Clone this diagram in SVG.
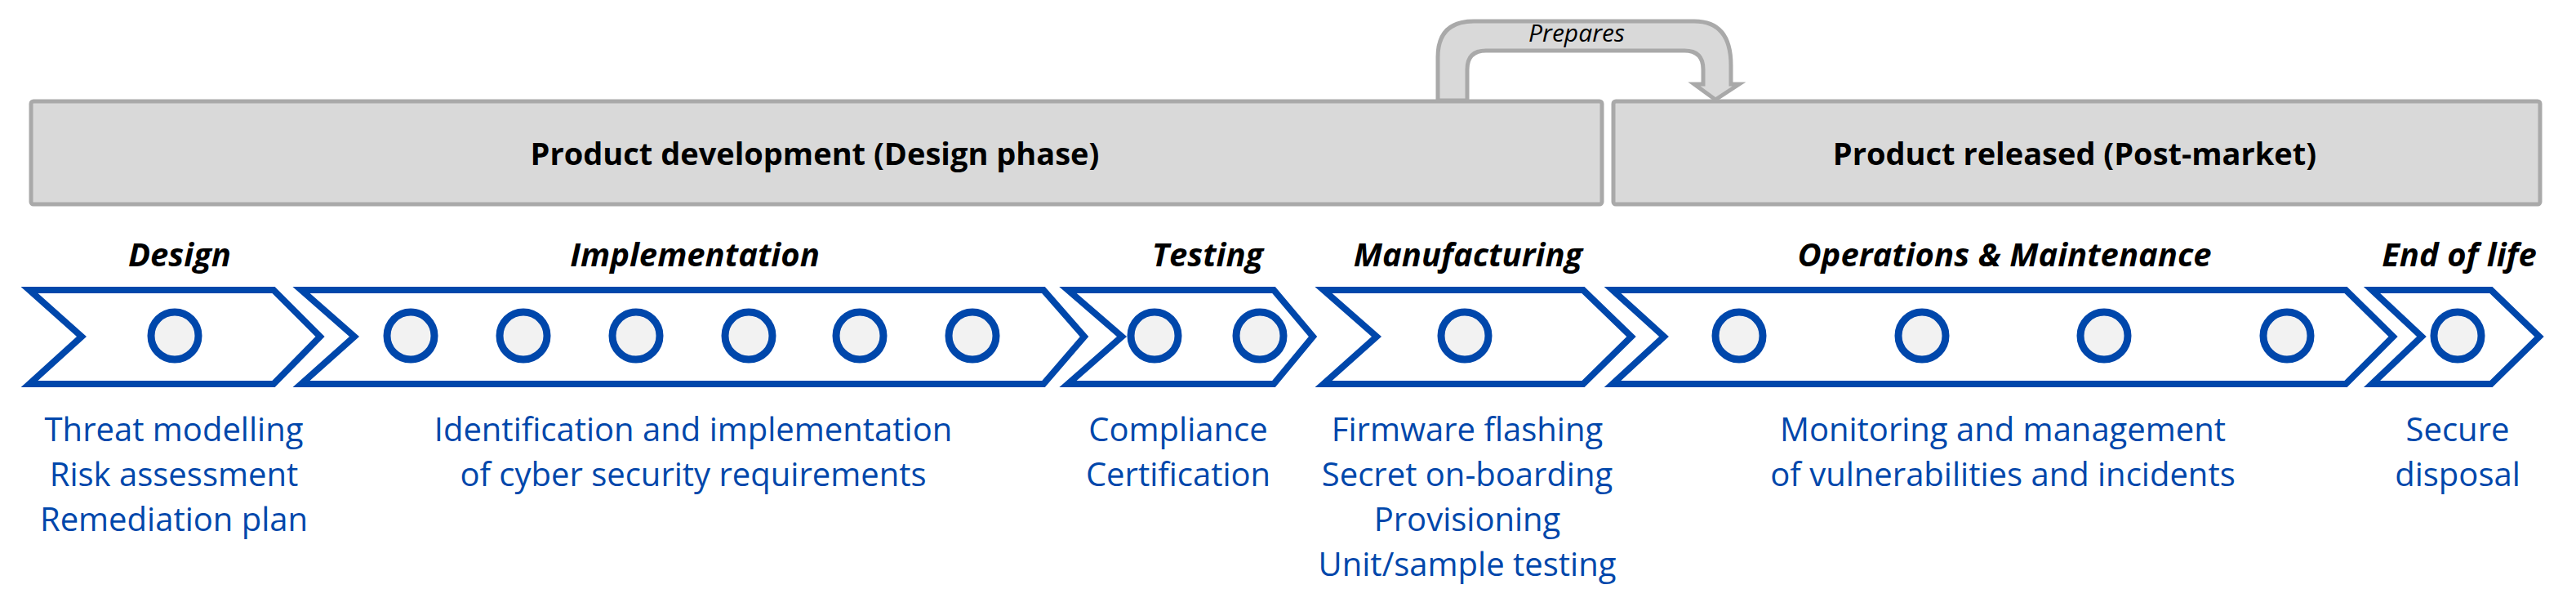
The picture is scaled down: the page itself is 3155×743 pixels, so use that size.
<svg xmlns="http://www.w3.org/2000/svg" width="3155" height="743" viewBox="0 0 3155 743">
<style>
.box{fill:#d9d9d9;stroke:#a9a9a9;stroke-width:5}
.chev{fill:#fff;stroke:#0047ab;stroke-width:8}
.dot{fill:#f2f2f2;stroke:#0047ab;stroke-width:9}
.hdr{font-family:"Open Sans",sans-serif;font-weight:bold;font-size:38px;text-anchor:middle;fill:#000}
.ph{font-family:"Open Sans",sans-serif;font-weight:bold;font-style:italic;font-size:40px;text-anchor:middle;fill:#000}
.desc{font-family:"Open Sans",sans-serif;font-size:40px;text-anchor:middle;fill:#0047ab}
.lbl{font-family:"Open Sans",sans-serif;font-style:italic;font-size:30px;text-anchor:middle;fill:#000}
</style>
<g id="connectors">
<path class="box" d="M1761,123 V70 Q1761,26 1805,26 H2075 Q2120,26 2120,80 V103 H2130 L2101,122 L2075,103 H2086 V85 Q2086,62 2063,62 H1820 Q1797,62 1797,85 V123 Z"/>
<text class="lbl" x="1931" y="51">Prepares</text>
</g>
<g id="dev"><rect class="box" x="38" y="124" width="1924" height="126" rx="3"/><text class="hdr" x="998" y="202">Product development (Design phase)</text></g>
<g id="rel"><rect class="box" x="1976" y="124" width="1135" height="126" rx="3"/><text class="hdr" x="2541" y="202">Product released (Post-market)</text></g>
<g id="design">
<text class="ph" x="220" y="326">Design</text>
<polygon class="chev" points="36,355 335,355 392,412 335,470 36,470 100,412"/>
<circle class="dot" cx="214" cy="411" r="29"/>
<text class="desc" x="213" y="540">Threat modelling</text><text class="desc" x="213" y="595">Risk assessment</text><text class="desc" x="213" y="650">Remediation plan</text>
</g>
<g id="impl">
<text class="ph" x="851" y="326">Implementation</text>
<polygon class="chev" points="369,355 1278,355 1328,412 1278,470 369,470 434,412"/>
<circle class="dot" cx="503" cy="411" r="29"/><circle class="dot" cx="641" cy="411" r="29"/><circle class="dot" cx="779" cy="411" r="29"/><circle class="dot" cx="917" cy="411" r="29"/><circle class="dot" cx="1053" cy="411" r="29"/><circle class="dot" cx="1191" cy="411" r="29"/>
<text class="desc" x="849" y="540">Identification and implementation</text><text class="desc" x="849" y="595">of cyber security requirements</text>
</g>
<g id="test">
<text class="ph" x="1479" y="326">Testing</text>
<polygon class="chev" points="1308,355 1560,355 1608,412 1560,470 1308,470 1374,412"/>
<circle class="dot" cx="1414" cy="411" r="29"/><circle class="dot" cx="1543" cy="411" r="29"/>
<text class="desc" x="1443" y="540">Compliance</text><text class="desc" x="1443" y="595">Certification</text>
</g>
<g id="manu">
<text class="ph" x="1798" y="326">Manufacturing</text>
<polygon class="chev" points="1621,355 1939,355 1998,412 1939,470 1621,470 1686,412"/>
<circle class="dot" cx="1794" cy="411" r="29"/>
<text class="desc" x="1797" y="540">Firmware flashing</text><text class="desc" x="1797" y="595">Secret on-boarding</text><text class="desc" x="1797" y="650">Provisioning</text><text class="desc" x="1797" y="705">Unit/sample testing</text>
</g>
<g id="ops">
<text class="ph" x="2455" y="326">Operations &amp; Maintenance</text>
<polygon class="chev" points="1975,355 2873,355 2931,412 2873,470 1975,470 2038,412"/>
<circle class="dot" cx="2130" cy="411" r="29"/><circle class="dot" cx="2354" cy="411" r="29"/><circle class="dot" cx="2577" cy="411" r="29"/><circle class="dot" cx="2801" cy="411" r="29"/>
<text class="desc" x="2453" y="540">Monitoring and management</text><text class="desc" x="2453" y="595">of vulnerabilities and incidents</text>
</g>
<g id="eol">
<text class="ph" x="3012" y="326">End of life</text>
<polygon class="chev" points="2905,355 3051,355 3110,412 3051,470 2905,470 2966,412"/>
<circle class="dot" cx="3010" cy="411" r="29"/>
<text class="desc" x="3010" y="540">Secure</text><text class="desc" x="3010" y="595">disposal</text>
</g>
</svg>
